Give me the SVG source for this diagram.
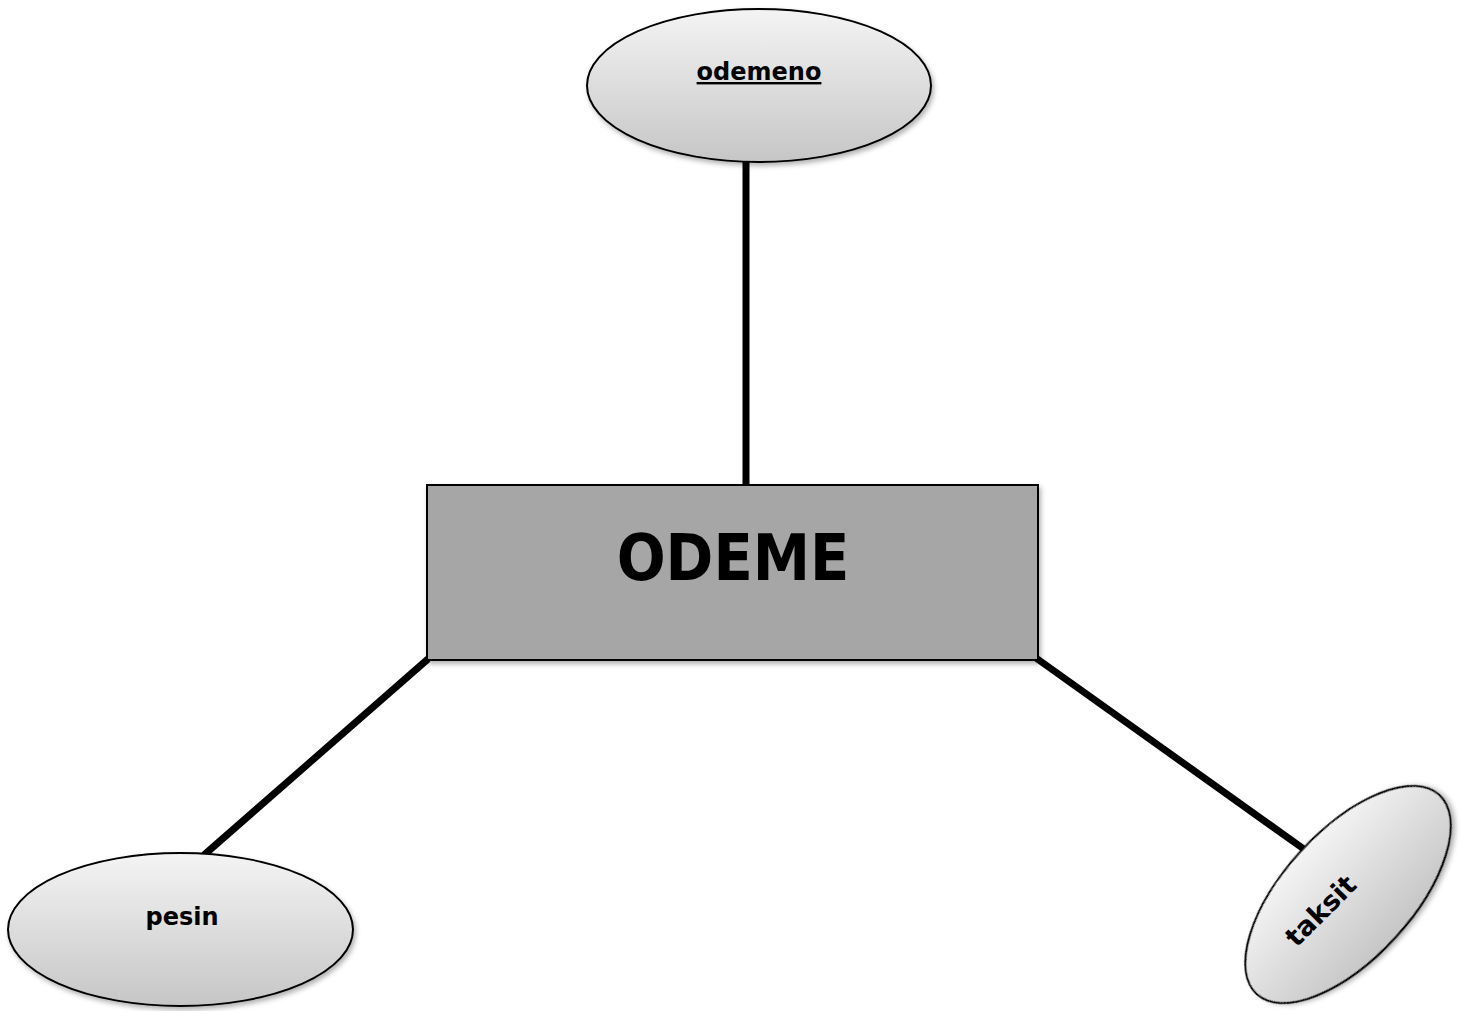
<svg xmlns="http://www.w3.org/2000/svg" width="1466" height="1011" viewBox="0 0 1466 1011">
<defs>
<linearGradient id="eg" x1="0" y1="0" x2="0" y2="1">
<stop offset="0" stop-color="#f4f4f4"/>
<stop offset="1" stop-color="#c6c6c6"/>
</linearGradient>
<filter id="sh" x="-10%" y="-10%" width="130%" height="130%">
<feDropShadow dx="2" dy="3" stdDeviation="2.5" flood-color="#000" flood-opacity="0.3"/>
</filter>
</defs>
<style>
.attr{fill:url(#eg);stroke:#000;stroke-width:2;filter:url(#sh)}
.ent{fill:#a6a6a6;stroke:#000;stroke-width:2;filter:url(#sh)}
.conn{stroke:#000;stroke-width:7;fill:none}
text{font-family:"Comic Sans MS","DejaVu Sans",sans-serif;fill:#000;text-anchor:middle}
.lbl{font-size:24px;font-weight:bold}
.big{font-size:64px;font-weight:bold;font-stretch:condensed}
</style>
<rect width="1466" height="1011" fill="#fff"/>
<g id="connectors">
<line class="conn" x1="746" y1="160" x2="746" y2="486"/>
<line class="conn" x1="428" y1="659" x2="204" y2="855"/>
<line class="conn" x1="1036" y1="658" x2="1315" y2="857"/>
</g>
<g id="odemeno">
<ellipse class="attr" cx="759" cy="85.5" rx="172" ry="76.5"/>
<text class="lbl" x="759" y="80" text-decoration="underline">odemeno</text>
</g>
<g id="ODEME">
<rect class="ent" x="427" y="485" width="611" height="175"/>
<text class="big" x="733" y="580">ODEME</text>
</g>
<g id="pesin">
<ellipse class="attr" cx="180.5" cy="929.5" rx="172.5" ry="76.5"/>
<text class="lbl" x="182" y="925">pesin</text>
</g>
<g id="taksit">
<ellipse class="attr" cx="1348" cy="894.5" rx="135" ry="64" transform="rotate(-47.5 1348 894.5)"/>
<text class="lbl" x="1321" y="920" transform="rotate(-45 1321 911)" style="font-size:27px">taksit</text>
</g>
</svg>
